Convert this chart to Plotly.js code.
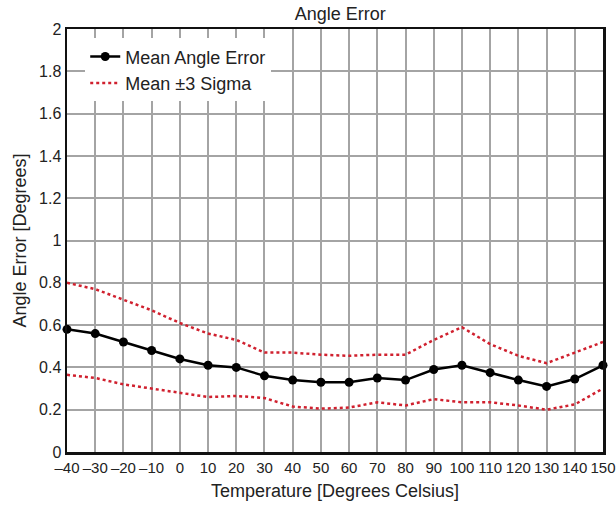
<!DOCTYPE html>
<html><head><meta charset="utf-8">
<script src="https://cdn.plot.ly/plotly-3.0.1.min.js"></script>
<style>body{margin:0;padding:0;background:#fff}#c{width:616px;height:506px}</style>
</head><body><div id="c"></div>
<script>
const temps = [-40,-30,-20,-10,0,10,20,30,40,50,60,70,80,90,100,110,120,130,140,150];
const meanErr = [0.58,0.56,0.52,0.48,0.44,0.41,0.40,0.36,0.34,0.33,0.33,0.35,0.34,0.39,0.41,0.375,0.34,0.31,0.345,0.41];
const upper3s = [0.80,0.77,0.72,0.67,0.61,0.56,0.53,0.47,0.47,0.46,0.455,0.46,0.46,0.53,0.59,0.51,0.455,0.42,0.47,0.52];
const lower3s = [0.365,0.35,0.32,0.30,0.28,0.26,0.265,0.255,0.215,0.205,0.21,0.235,0.22,0.25,0.235,0.235,0.22,0.20,0.225,0.30];
const xTicks = [-40,-30,-20,-10,0,10,20,30,40,50,60,70,80,90,100,110,120,130,140,150];
const yTicks = [0,0.2,0.4,0.6,0.8,1,1.2,1.4,1.6,1.8,2];

const red = '#d0202e';
const txt = '#222';
const fam = 'Liberation Sans, Arial, sans-serif';
const traces = [
  {x: temps, y: meanErr, mode:'lines+markers', name:'Mean Angle Error', line:{color:'#000', width:2.5}, marker:{color:'#000', size:9}, cliponaxis:false},
  {x: temps, y: upper3s, mode:'lines', name:'Mean ±3 Sigma', legendgroup:'s', line:{color:red, width:2.5, dash:'dot'}},
  {x: temps, y: lower3s, mode:'lines', name:'Mean ±3 Sigma', legendgroup:'s', showlegend:false, line:{color:red, width:2.5, dash:'dot'}}
];
const layout = {
  width:616, height:506,
  margin:{l:67, r:13, t:29, b:54},
  paper_bgcolor:'#fff', plot_bgcolor:'#fff',
  font:{family:fam, size:18, color:txt},
  title:{text:'Angle Error', xref:'paper', x:0.51, xanchor:'center', yref:'container', y:0.972, yanchor:'middle', font:{family:fam, size:18, color:txt}},
  xaxis:{range:[-40.002,150.002], tickvals:xTicks, ticktext:xTicks.map(v=>v<0?'\u2013'+Math.abs(v):String(v)),
    tickangle:0, automargin:false,
    showgrid:true, gridcolor:'#a4a4a4', gridwidth:2, showline:true, linecolor:'#111', linewidth:2.5, mirror:true,
    ticks:'', zeroline:false, tickfont:{family:fam, size:15, color:txt},
    title:{text:'Temperature [Degrees Celsius]', standoff:10, font:{family:fam, size:18, color:txt}}},
  yaxis:{range:[0,2], tickvals:yTicks, showgrid:true, gridcolor:'#a4a4a4', gridwidth:2, automargin:false,
    showline:true, linecolor:'#111', linewidth:2.5, mirror:true, ticks:'', zeroline:false,
    tickfont:{family:fam, size:16, color:txt},
    title:{text:'Angle Error [Degrees]', standoff:8, font:{family:fam, size:18, color:txt}}},
  legend:{x:0.034, y:0.978, xanchor:'left', yanchor:'top', bgcolor:'#fff', borderwidth:0,
    font:{family:fam, size:18, color:txt}, tracegroupgap:0, traceorder:'normal'},
  showlegend:true
};
Plotly.newPlot('c', traces, layout, {displayModeBar:false, staticPlot:true});
</script></body></html>
